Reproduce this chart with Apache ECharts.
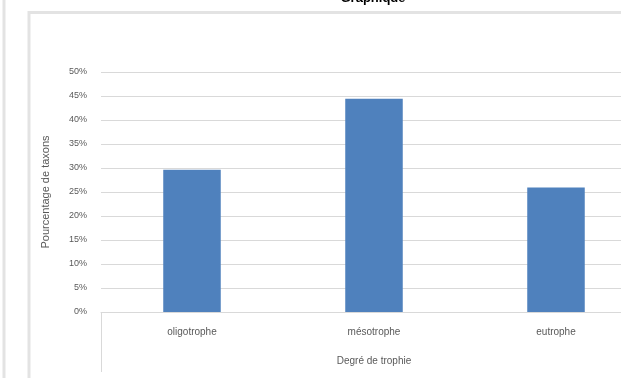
<!DOCTYPE html>
<html>
<head>
<meta charset="utf-8">
<script src="https://cdn.jsdelivr.net/npm/echarts@6/dist/echarts.min.js"></script>
<style>
  html, body { margin: 0; padding: 0; background: #ffffff; overflow: hidden; }
  #chart { width: 660px; height: 378px; }
</style>
</head>
<body>
<div id="chart"></div>
<script>
// Degrees of trophy and share of taxa (%)
const categories = ['oligotrophe', 'mésotrophe', 'eutrophe'];
const taxaShare = [29.63, 44.44, 25.93];
const yTicks = [0, 5, 10, 15, 20, 25, 30, 35, 40, 45, 50];

const FONT = '"Liberation Sans", "DejaVu Sans", sans-serif';
const GREY = '#595959';

const chart = echarts.init(document.getElementById('chart'), null, { renderer: 'canvas' });

chart.setOption({
  backgroundColor: '#ffffff',
  animation: false,
  title: {
    text: 'Graphique',
    left: 368,
    textAlign: 'center',
    top: -13,
    textStyle: { fontFamily: FONT, fontSize: 13, fontWeight: 'bold', color: '#000000' }
  },
  graphic: [
    // chart area frame (extends past the right and bottom edges)
    { type: 'rect', shape: { x: 29, y: 12.5, width: 700, height: 500 },
      style: { fill: 'none', stroke: '#e3e3e3', lineWidth: 3 }, silent: true },
    { type: 'line', shape: { x1: 4, y1: 0, x2: 4, y2: 378 },
      style: { stroke: '#e3e3e3', lineWidth: 3 }, silent: true }
  ],
  grid: { left: 101, top: 72, right: 13, height: 240, containLabel: false },
  xAxis: {
    type: 'category',
    data: categories,
    name: 'Degré de trophie',
    nameLocation: 'middle',
    nameGap: 44,
    nameTextStyle: { fontFamily: FONT, fontSize: 10, color: GREY },
    axisLine: { show: true, lineStyle: { color: '#d9d9d9', width: 1 } },
    axisTick: {
      show: true, length: 60, interval: (i) => i === 0,
      lineStyle: { color: '#d9d9d9', width: 1 }
    },
    axisLabel: { fontFamily: FONT, fontSize: 10, color: GREY, margin: 15 }
  },
  yAxis: {
    type: 'value',
    min: yTicks[0],
    max: yTicks[yTicks.length - 1],
    interval: yTicks[1] - yTicks[0],
    name: 'Pourcentage de taxons',
    nameLocation: 'middle',
    nameGap: 50,
    nameTextStyle: { fontFamily: FONT, fontSize: 11, color: GREY },
    axisLine: { show: false },
    axisTick: { show: false },
    axisLabel: { fontFamily: FONT, fontSize: 9, color: GREY, margin: 14, formatter: '{value}%' },
    splitLine: { lineStyle: { color: '#d9d9d9', width: 1 } }
  },
  series: [{
    type: 'bar',
    data: taxaShare,
    barWidth: '31.6%',
    itemStyle: { color: '#4f81bd' }
  }]
});
</script>
</body>
</html>
